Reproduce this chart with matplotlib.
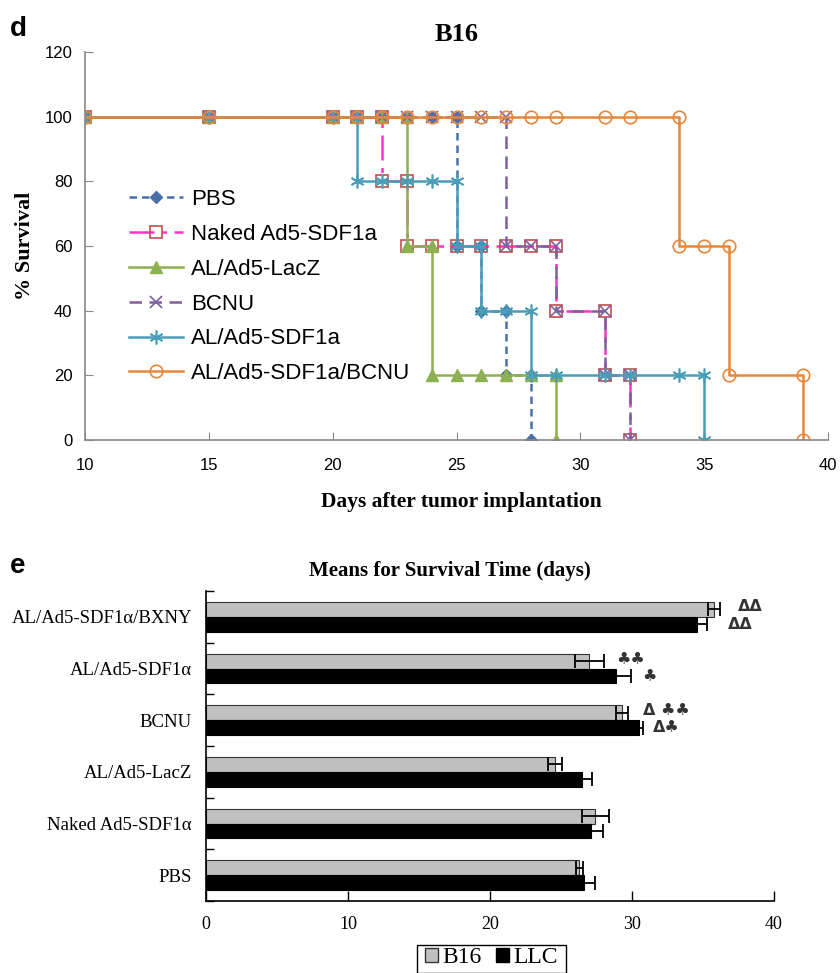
import matplotlib
matplotlib.use("Agg")
import matplotlib.pyplot as plt
import numpy as np
from matplotlib.patches import Patch, Rectangle

# ---------------- Data: panel d (Kaplan-Meier, B16) ----------------
days_pbs = [10, 15, 20, 21, 22, 23, 24, 25, 25, 26, 26, 27, 27, 28, 28]
surv_pbs = [100, 100, 100, 100, 100, 100, 100, 100, 60, 60, 40, 40, 20, 20, 0]

days_naked = [10, 15, 20, 21, 22, 22, 23, 23, 24, 25, 26, 27, 28, 29, 29, 31, 31, 32, 32]
surv_naked = [100, 100, 100, 100, 100, 80, 80, 60, 60, 60, 60, 60, 60, 60, 40, 40, 20, 20, 0]

days_lacz = [10, 15, 20, 21, 22, 23, 23, 24, 24, 25, 26, 27, 28, 29, 29]
surv_lacz = [100, 100, 100, 100, 100, 100, 60, 60, 20, 20, 20, 20, 20, 20, 0]

days_bcnu = [10, 15, 20, 21, 22, 23, 24, 25, 26, 27, 27, 28, 29, 29, 31, 31, 32, 32]
surv_bcnu = [100, 100, 100, 100, 100, 100, 100, 100, 100, 100, 60, 60, 60, 40, 40, 20, 20, 0]

days_sdf = [10, 15, 20, 21, 21, 22, 23, 24, 25, 25, 26, 26, 27, 28, 28, 29, 31, 32, 34, 35, 35]
surv_sdf = [100, 100, 100, 100, 80, 80, 80, 80, 80, 60, 60, 40, 40, 40, 20, 20, 20, 20, 20, 20, 0]

days_combo = [10, 15, 20, 21, 22, 23, 24, 25, 26, 27, 28, 29, 31, 32, 34, 34, 35, 36, 36, 39, 39]
surv_combo = [100, 100, 100, 100, 100, 100, 100, 100, 100, 100, 100, 100, 100, 100, 100, 60, 60, 60, 20, 20, 0]

km_labels = ["PBS", "Naked Ad5-SDF1a", "AL/Ad5-LacZ", "BCNU", "AL/Ad5-SDF1a", "AL/Ad5-SDF1a/BCNU"]

# ---------------- Data: panel e (mean survival time) ----------------
groups = ["PBS", "Naked Ad5-SDF1\u03b1", "AL/Ad5-LacZ", "BCNU", "AL/Ad5-SDF1\u03b1", "AL/Ad5-SDF1\u03b1/BXNY"]
b16_mean = [26.3, 27.4, 24.6, 29.3, 27.0, 35.8]
b16_err = [0.25, 0.95, 0.5, 0.45, 1.0, 0.42]
llc_mean = [26.6, 27.1, 26.45, 30.5, 28.9, 34.6]
llc_err = [0.8, 0.85, 0.75, 0.25, 1.0, 0.7]
b16_marks = ["", "", "", "\u0394 \u2663\u2663", "\u2663\u2663", "\u0394\u0394"]
llc_marks = ["", "", "", "\u0394\u2663", "\u2663", "\u0394\u0394"]

fig = plt.figure(figsize=(8.4, 9.73), dpi=100)

# ================= Panel d =================
ax = fig.add_axes([85 / 840, 1 - 440 / 973, 743 / 840, 388 / 973])
styles = [
    dict(color="#4A70AA", ls=(0, (3, 2)), marker="D", ms=6, mfc="#4A70AA", mec="#4A70AA"),
    dict(color="#FF33CC", ls=(0, (10, 3, 2, 3)), marker="s", ms=8, mfc="none", mec="#C0504D", mew=1.2),
    dict(color="#8DB050", ls="-", marker="^", ms=8, mfc="#8DB050", mec="#8DB050"),
    dict(color="#7F5FA0", ls=(0, (5, 3)), marker="x", ms=8, mfc="none", mec="#7F5FA0", mew=1.2),
    dict(color="#4A9DB8", ls="-", marker=(6, 2, 0), ms=10, mfc="none", mec="#4A9DB8", mew=1.2),
    dict(color="#E6873A", ls="-", marker="o", ms=9, mfc="none", mec="#E6873A", mew=1.2),
]
series = [(days_pbs, surv_pbs), (days_naked, surv_naked), (days_lacz, surv_lacz),
          (days_bcnu, surv_bcnu), (days_sdf, surv_sdf), (days_combo, surv_combo)]
for (d, s), st, lab in zip(series, styles, km_labels):
    ax.plot(d, s, lw=1.8, label=lab, **st)

ax.set_xlim(10, 40)
ax.set_ylim(0, 120)
ax.set_xticks(np.arange(10, 41, 5))
ax.set_yticks(np.arange(0, 121, 20))
for sp in ["top", "right"]:
    ax.spines[sp].set_visible(False)
for sp in ["left", "bottom"]:
    ax.spines[sp].set_color("#888888")
    ax.spines[sp].set_linewidth(1.2)
ax.tick_params(axis="both", direction="in", length=6, color="#888888", labelsize=12,
               labelfontfamily="Liberation Sans")
ax.tick_params(axis="x", pad=13)
ax.tick_params(axis="y", pad=9)
ax.set_ylabel("% Survival", fontfamily="Liberation Serif", fontweight="bold", fontsize=16, labelpad=7)
ax.set_xlabel("Days after tumor implantation", fontfamily="Liberation Serif", fontweight="bold",
              fontsize=15.5, labelpad=12)
ax.xaxis.set_label_coords((461 - 85) / 743, -0.135)
ax.set_title("B16", fontfamily="Liberation Serif", fontweight="bold", fontsize=19, pad=8)
ax.legend(loc="upper left", bbox_to_anchor=(0.044, 0.675), frameon=False,
          prop={"family": "Liberation Sans", "size": 16}, handlelength=2.45,
          handletextpad=0.35, labelspacing=0.62, borderpad=0)
fig.text(10 / 840, 1 - 36 / 973, "d", fontfamily="Liberation Sans", fontweight="bold", fontsize=20)

# ================= Panel e =================
bx = fig.add_axes([206 / 840, 1 - 901 / 973, 568 / 840, 310 / 973])
y = np.arange(len(groups))
h = 0.29
bx.barh(y + h / 2, b16_mean, height=h, color="#C0C0C0", edgecolor="#333333", linewidth=0.8, zorder=2)
bx.barh(y - h / 2, llc_mean, height=h, color="black", edgecolor="black", linewidth=0.8, zorder=2)
bx.errorbar(b16_mean, y + h / 2, xerr=b16_err, fmt="none", ecolor="black", elinewidth=1.3,
            capsize=5, capthick=1.3, zorder=3)
bx.errorbar(llc_mean, y - h / 2, xerr=llc_err, fmt="none", ecolor="black", elinewidth=1.3,
            capsize=5, capthick=1.3, zorder=3)
# gap (in data units) between error bar end and significance marks
b16_gap = [1.0, 1.0, 1.0, 1.0, 0.87, 1.24]
llc_gap = [1.0, 1.0, 1.0, 0.73, 0.8, 1.46]
for i in range(len(groups)):
    if b16_marks[i]:
        bx.text(b16_mean[i] + b16_err[i] + b16_gap[i], y[i] + h / 2 + 0.05, b16_marks[i],
                va="center", ha="left", fontsize=11.5, fontweight="bold",
                fontfamily="DejaVu Sans", color="#333333")
    if llc_marks[i]:
        bx.text(llc_mean[i] + llc_err[i] + llc_gap[i], y[i] - h / 2, llc_marks[i],
                va="center", ha="left", fontsize=11.5, fontweight="bold",
                fontfamily="DejaVu Sans", color="#333333")

bx.set_xlim(0, 40)
bx.set_ylim(-0.5, len(groups) - 0.5)
bx.set_xticks(np.arange(0, 41, 10))
bx.set_yticks(y)
bx.set_yticklabels(groups)
bx.set_yticks(np.arange(-0.5, len(groups)), minor=True)
for sp in ["top", "right"]:
    bx.spines[sp].set_visible(False)
bx.spines["left"].set_linewidth(1.2)
bx.spines["bottom"].set_linewidth(1.2)
bx.tick_params(axis="y", which="major", length=0, pad=10, labelsize=13.5,
               labelfontfamily="Liberation Serif")
bx.tick_params(axis="y", which="minor", direction="in", length=6, width=1.0)
bx.tick_params(axis="x", direction="in", length=7, width=1.0, pad=11, labelsize=13,
               labelfontfamily="Liberation Serif")
bx.set_title("Means for Survival Time (days)", fontfamily="Liberation Serif", fontweight="bold",
             fontsize=15, pad=11, x=(450 - 206) / 568)
fig.text(10 / 840, 1 - 573 / 973, "e", fontfamily="Liberation Sans", fontweight="bold", fontsize=20)

# bottom legend (frame drawn separately, running off the bottom edge as in the reference)
fig.add_artist(Rectangle((417 / 840, 0.0), (566 - 417) / 840, 1 - 945 / 973,
                         transform=fig.transFigure, fill=False, edgecolor="black", linewidth=1.0,
                         clip_on=False))
handles = [Patch(facecolor="#C0C0C0", edgecolor="#333333", label="B16"),
           Patch(facecolor="black", edgecolor="black", label="LLC")]
fig.legend(handles=handles, loc="upper left", bbox_to_anchor=(425 / 840, 1 - 947 / 973),
           ncol=2, frameon=False, prop={"family": "Liberation Serif", "size": 17},
           handlelength=0.55, handleheight=0.55, handletextpad=0.2, columnspacing=0.6,
           borderpad=0, borderaxespad=0)

fig.savefig("out.png", dpi=100)
